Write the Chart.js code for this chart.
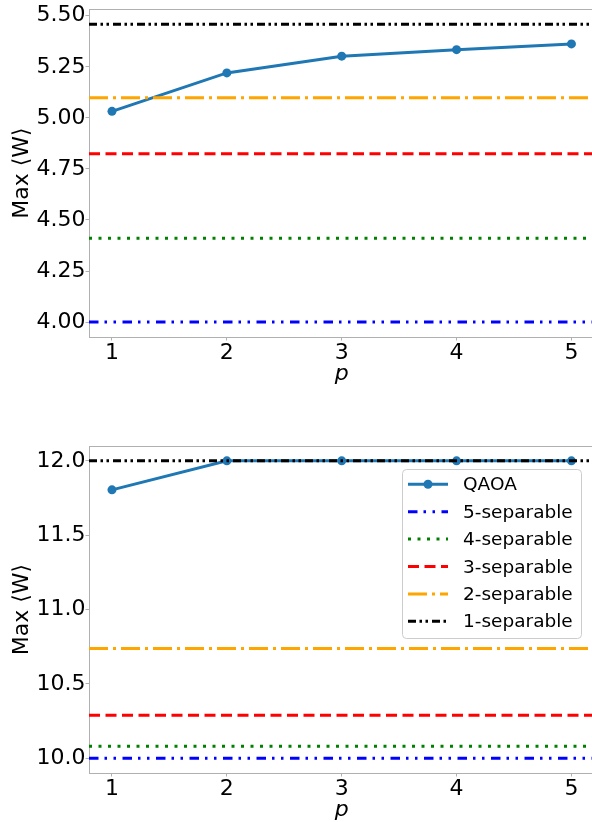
<!DOCTYPE html>
<html>
<head>
<meta charset="utf-8">
<script src="https://cdn.jsdelivr.net/npm/chart.js@4.4.1/dist/chart.umd.min.js"></script>
<style>
  html, body { margin: 0; padding: 0; background: #fff; overflow: hidden; }
  .wrap { width: 600px; }
  canvas { display: block; }
</style>
</head>
<body>
<div class="wrap">
  <canvas id="top" width="600" height="410"></canvas>
  <canvas id="bottom" width="600" height="412"></canvas>
</div>
<script>
const pValues = [1, 2, 3, 4, 5]
const xLimits = [0.8, 5.2]
const xTicks = [1, 2, 3, 4, 5]

const seriesLabels = ["QAOA", "5-separable", "4-separable", "3-separable", "2-separable", "1-separable"]

// upper panel
const qaoaTop = [5.032, 5.220, 5.302, 5.334, 5.362]
const boundsTop = [4.00, 4.411, 4.824, 5.098, 5.458] // 5-, 4-, 3-, 2-, 1-separable
const yTicksTop = [4.00, 4.25, 4.50, 4.75, 5.00, 5.25, 5.50]
const yLimitsTop = [3.927, 5.533]

// lower panel
const qaoaBottom = [11.805, 12.0, 12.0, 12.0, 12.0]
const boundsBottom = [10.0, 10.08, 10.288, 10.737, 12.0]
const yTicksBottom = [10.0, 10.5, 11.0, 11.5, 12.0]
const yLimitsBottom = [9.9, 12.1]

const family = "DejaVu Sans"
const spine = "#b0b0b0"
const qaoaColor = "#1f77b4"
const lineColors = ["#0000ff", "#008000", "#ff0000", "#ffa500", "#000000"]
const lineDashes = [
    [9.5, 6, 2.5, 6.5, 2.5, 6.5],
    [3, 6.5],
    [11, 5.5],
    [19, 5, 3, 5],
    [8, 3.5, 2.5, 3.5, 2.5, 4]
]

const makeDatasets = (qaoa, bounds) => {
    const datasets = [{
        label: seriesLabels[0],
        data: pValues.map((p, i) => ({ x: p, y: qaoa[i] })),
        borderColor: qaoaColor,
        backgroundColor: qaoaColor,
        borderWidth: 3,
        pointRadius: 4.5,
        pointBorderWidth: 0,
        pointBackgroundColor: qaoaColor,
        order: 1
    }]
    bounds.forEach((v, i) => {
        datasets.push({
            label: seriesLabels[i + 1],
            data: xLimits.map((x) => ({ x: x, y: v })),
            borderColor: lineColors[i],
            borderDash: lineDashes[i],
            borderWidth: 3,
            pointRadius: 0,
            order: 0
        })
    })
    return datasets
}

const makeScales = (yLim, yTicks, digits, xHeight, xTitlePad) => ({
    x: {
        type: "linear",
        min: xLimits[0],
        max: xLimits[1],
        afterBuildTicks: (s) => { s.ticks = xTicks.map((v) => ({ value: v })) },
        ticks: { font: { family: family, size: 22 }, color: "#000", padding: 0, maxRotation: 0, callback: (v) => String(v) },
        grid: { display: true, drawOnChartArea: false, drawTicks: true, tickLength: 3.5, color: spine },
        border: { display: true, color: spine, width: 1 },
        title: { display: true, text: "p", color: "#000", font: { family: family, size: 22, style: "italic" }, padding: { top: 0, bottom: xTitlePad } },
        afterFit: (s) => { s.height = xHeight; s.paddingLeft = 0; s.paddingRight = 0 }
    },
    xTop: {
        type: "linear",
        position: "top",
        min: xLimits[0],
        max: xLimits[1],
        ticks: { display: false },
        grid: { display: false },
        border: { display: true, color: spine, width: 1 },
        afterFit: (s) => { s.height = 0; s.paddingLeft = 0; s.paddingRight = 0 }
    },
    y: {
        type: "linear",
        min: yLim[0],
        max: yLim[1],
        afterBuildTicks: (s) => { s.ticks = yTicks.map((v) => ({ value: v })) },
        ticks: { font: { family: family, size: 22 }, color: "#000", padding: 0, callback: (v) => Number(v).toFixed(digits) },
        grid: { display: true, drawOnChartArea: false, drawTicks: true, tickLength: 3.5, color: spine },
        border: { display: true, color: spine, width: 1 },
        title: { display: true, text: "Max ⟨W⟩", color: "#000", font: { family: family, size: 22 }, padding: { top: 8.8, bottom: 0 } },
        afterFit: (s) => { s.width = 89; s.paddingTop = 0; s.paddingBottom = 0 }
    }
})

// legend drawn inside the lower axes, upper right corner
const legendBox = {
    id: "legendBox",
    afterDatasetsDraw(chart) {
        const { ctx, chartArea } = chart
        const w = 179, h = 169
        const left = chartArea.right - 12.9 - w
        const top = chartArea.top + 23.5
        ctx.save()
        ctx.beginPath()
        ctx.roundRect(left, top, w, h, 4)
        ctx.fillStyle = "rgba(255,255,255,0.8)"
        ctx.fill()
        ctx.strokeStyle = "#cccccc"
        ctx.lineWidth = 1
        ctx.stroke()
        ctx.font = "18.5px 'DejaVu Sans'"
        ctx.textBaseline = "middle"
        ctx.textAlign = "left"
        chart.data.datasets.forEach((ds, i) => {
            const y = top + 14.8 + i * 27.4
            ctx.beginPath()
            ctx.setLineDash(ds.borderDash || [])
            ctx.strokeStyle = ds.borderColor
            ctx.lineWidth = ds.borderWidth
            ctx.moveTo(left + 5.5, y)
            ctx.lineTo(left + 45.5, y)
            ctx.stroke()
            ctx.setLineDash([])
            if (ds.pointRadius > 0) {
                ctx.beginPath()
                ctx.arc(left + 25.5, y, ds.pointRadius, 0, Math.PI * 2)
                ctx.fillStyle = ds.borderColor
                ctx.fill()
            }
            ctx.fillStyle = "#000"
            ctx.fillText(ds.label, left + 60.5, y + 1.2)
        })
        ctx.restore()
    }
}

const baseOptions = (scales, padTop) => ({
    responsive: false,
    animation: false,
    devicePixelRatio: 1,
    layout: { padding: { top: padTop, right: 5.6, left: 0, bottom: 0 } },
    plugins: { legend: { display: false }, tooltip: { enabled: false } },
    scales: scales
})

new Chart(document.querySelector("#top"), {
    type: "line",
    data: { datasets: makeDatasets(qaoaTop, boundsTop) },
    options: baseOptions(makeScales(yLimitsTop, yTicksTop, 2, 73, 23), 9)
})

new Chart(document.querySelector("#bottom"), {
    type: "line",
    data: { datasets: makeDatasets(qaoaBottom, boundsBottom) },
    options: baseOptions(makeScales(yLimitsBottom, yTicksBottom, 1, 49, -1), 36),
    plugins: [legendBox]
})
</script>
</body>
</html>
